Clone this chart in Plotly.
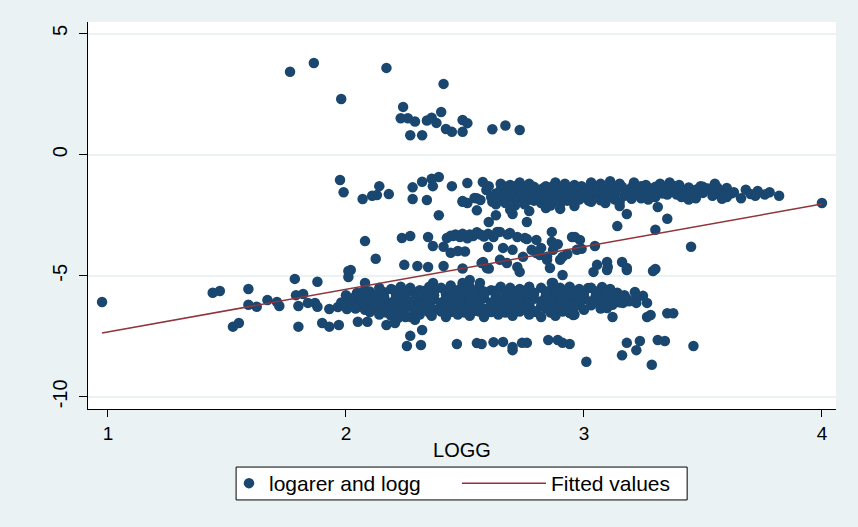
import plotly.graph_objects as go

# ---------------- data ----------------
top_outliers = [
    (1.765, 3.42), (1.865, 3.78), (2.17, 3.58), (1.98, 2.30), (2.41, 2.92),
    (2.24, 1.97), (2.23, 1.50), (2.26, 1.50), (2.29, 1.37), (2.34, 1.41),
    (2.36, 1.52), (2.38, 1.31), (2.40, 1.76), (2.42, 1.06), (2.445, 0.94),
    (2.49, 1.43), (2.51, 1.30), (2.49, 0.94), (2.27, 0.80), (2.32, 0.80),
    (2.615, 1.05), (2.67, 1.20), (2.73, 1.02),
]

upper_left = [
    (1.975, -1.05), (1.99, -1.55), (2.07, -1.83), (2.11, -1.70), (2.13, -1.67),
    (2.14, -1.30), (2.18, -1.63), (2.28, -1.35), (2.28, -1.83), (2.34, -1.87),
    (2.32, -1.12), (2.36, -1.00), (2.39, -0.92), (2.365, -1.30), (2.445, -1.30),
    (2.51, -1.17), (2.39, -2.50), (2.49, -1.95), (2.51, -2.00), (2.55, -1.80),
    (2.55, -2.30), (2.60, -2.78), (2.63, -2.50), (2.54, -1.79), (2.575, -1.13),
    (2.59, -1.46), (2.565, -1.87), (2.615, -1.95), (2.635, -1.75), (2.60, -1.30),
    (2.70, -2.45), (2.76, -2.78), (2.49, -1.91),
]

upper_row_a_x = [2.65, 2.69, 2.73, 2.77, 2.84, 2.88, 2.92, 2.96, 3.03, 3.07,
                 3.11, 3.15, 3.21, 3.26, 3.32, 3.36, 3.40, 3.49, 3.55]
upper_row_a_y = [-1.20, -1.25, -1.15, -1.20, -1.30, -1.15, -1.20, -1.25, -1.15, -1.20,
                 -1.10, -1.20, -1.15, -1.25, -1.20, -1.15, -1.25, -1.30, -1.20]
upper_row_ab_x = [2.67, 2.71, 2.75, 2.79, 2.83, 2.87, 2.91, 2.95, 2.99, 3.04, 3.08,
                  3.12, 3.16, 3.20, 3.24, 3.30, 3.34, 3.38, 3.44, 3.50, 3.56, 3.60]
upper_row_ab_y = [-1.33, -1.30, -1.35, -1.33, -1.38, -1.30, -1.33, -1.36, -1.30, -1.33, -1.35,
                  -1.30, -1.33, -1.36, -1.30, -1.33, -1.35, -1.30, -1.36, -1.33, -1.35, -1.38]
upper_row_b_x = [2.65, 2.68, 2.72, 2.76, 2.81, 2.85, 2.89, 2.93, 2.97, 3.02,
                 3.06, 3.10, 3.14, 3.18, 3.24, 3.28, 3.32, 3.37, 3.42, 3.47,
                 3.52, 3.57, 3.63, 3.68, 3.73, 3.78]
upper_row_b_y = [-1.45, -1.50, -1.40, -1.50, -1.45, -1.55, -1.40, -1.50, -1.45, -1.40,
                 -1.50, -1.45, -1.40, -1.50, -1.45, -1.40, -1.50, -1.45, -1.50, -1.45,
                 -1.40, -1.50, -1.55, -1.45, -1.50, -1.55]
upper_row_bc_x = [2.63, 2.67, 2.70, 2.74, 2.79, 2.83, 2.87, 2.91, 2.95, 2.99, 3.03, 3.08,
                  3.13, 3.19, 3.22, 3.27, 3.33, 3.39, 3.44, 3.50, 3.56, 3.62, 3.70]
upper_row_bc_y = [-1.60, -1.62, -1.58, -1.60, -1.65, -1.60, -1.58, -1.62, -1.60, -1.65, -1.58, -1.60,
                  -1.62, -1.60, -1.58, -1.62, -1.60, -1.65, -1.60, -1.58, -1.62, -1.60, -1.63]
upper_row_c_x = [2.61, 2.65, 2.69, 2.73, 2.77, 2.82, 2.86, 2.90, 2.95, 3.00,
                 3.05, 3.11, 3.17, 3.24, 3.30, 3.35, 3.41, 3.47, 3.54, 3.60,
                 3.66, 3.72, 3.76, 3.82]
upper_row_c_y = [-1.75, -1.80, -1.70, -1.75, -1.85, -1.70, -1.75, -1.80, -1.70, -1.75,
                 -1.65, -1.75, -1.70, -1.80, -1.75, -1.65, -1.75, -1.80, -1.70, -1.75,
                 -1.80, -1.70, -1.65, -1.70]
upper_row_cd_x = [2.63, 2.67, 2.71, 2.75, 2.79, 2.84, 2.88, 2.93, 2.98, 3.02, 3.07,
                  3.13, 3.20, 3.27, 3.44, 3.58]
upper_row_cd_y = [-1.90, -1.92, -1.88, -1.95, -1.90, -1.88, -1.92, -1.90, -1.85, -1.90, -1.88,
                  -1.85, -1.82, -1.85, -1.85, -1.82]
upper_row_d_x = [2.63, 2.67, 2.71, 2.75, 2.82, 2.86, 2.90, 2.96, 3.03, 3.09, 3.15]
upper_row_d_y = [-2.05, -2.00, -2.10, -2.05, -2.00, -2.10, -2.05, -2.00, -1.95, -2.00, -1.95]

upper_extra = [
    (2.69, -2.28), (2.77, -2.33), (2.84, -2.20), (2.90, -2.24), (2.96, -2.12),
    (3.14, -2.95), (3.15, -2.12), (3.18, -2.45), (3.31, -2.16), (3.35, -2.65),
    (3.30, -3.10), (3.45, -3.80), (3.54, -1.38), (4.00, -2.00),
]

middle_cluster = [
    (2.08, -3.57), (2.125, -4.30), (2.02, -4.76), (2.235, -3.44), (2.27, -3.36),
    (2.345, -3.40), (2.365, -3.77), (2.41, -3.80), (2.424, -3.44), (2.45, -3.36),
    (2.479, -3.40), (2.49, -3.27), (2.534, -3.36), (2.565, -3.30), (2.597, -3.27),
    (2.635, -3.19), (2.44, -4.05), (2.47, -3.98), (2.50, -4.00), (2.597, -3.81),
    (2.245, -4.55), (2.30, -4.60), (2.345, -4.64), (2.41, -4.60), (2.49, -4.70),
    (2.57, -4.47), (2.60, -4.70), (2.647, -3.19), (2.689, -3.23), (2.76, -3.48),
    (2.80, -3.52), (2.865, -3.19), (2.865, -3.60), (2.87, -3.93), (2.91, -4.22),
    (2.90, -4.34), (2.815, -4.14), (2.78, -3.93), (2.70, -3.93), (2.66, -3.85),
    (2.647, -4.34), (2.676, -4.47), (2.72, -4.64), (2.73, -4.84), (2.857, -4.68),
    (2.91, -4.97), (2.983, -3.52), (2.962, -3.40), (2.97, -3.93), (3.046, -3.77),
    (3.055, -4.55), (3.10, -4.64), (3.097, -4.43), (3.16, -4.43), (3.18, -4.68),
    (3.30, -4.72), (2.752, -3.44), (2.95, -3.40), (2.99, -3.89), (2.80, -4.06),
    (2.845, -4.22), (2.845, -4.34), (2.744, -4.22), (2.576, -4.43), (2.592, -4.68),
    (2.46, -3.30), (2.51, -3.45), (2.55, -3.20), (2.62, -3.40), (2.87, -5.30),
    (3.04, -4.84), (3.097, -4.76), (3.18, -4.76), (3.29, -4.80),
    (2.44, -3.35), (2.52, -3.30), (2.58, -3.38), (2.68, -3.30), (2.72, -3.40),
    (2.82, -3.85), (2.89, -3.70), (2.93, -4.10),
]

lower_row_1_x = [2.14, 2.19, 2.23, 2.27, 2.31, 2.35, 2.40, 2.44, 2.48, 2.52,
                 2.56, 2.61, 2.65, 2.69, 2.73, 2.77, 2.82, 2.86, 2.90, 2.94,
                 2.98, 3.03, 3.07, 3.11]
lower_row_1_y = [-5.50, -5.55, -5.45, -5.50, -5.60, -5.45, -5.50, -5.40, -5.55, -5.45,
                 -5.50, -5.60, -5.45, -5.50, -5.55, -5.45, -5.50, -5.60, -5.50, -5.45,
                 -5.55, -5.50, -5.60, -5.55]
lower_row_15_x = [2.10, 2.16, 2.21, 2.25, 2.29, 2.33, 2.37, 2.42, 2.46, 2.50, 2.54, 2.58,
                  2.63, 2.67, 2.71, 2.75, 2.79, 2.84, 2.88, 2.92, 2.96, 3.00, 3.05, 3.09, 3.14]
lower_row_15_y = [-5.65, -5.68, -5.62, -5.65, -5.70, -5.62, -5.65, -5.68, -5.62, -5.65, -5.70, -5.65,
                  -5.62, -5.68, -5.65, -5.62, -5.70, -5.65, -5.68, -5.62, -5.65, -5.70, -5.65, -5.68, -5.70]
lower_row_2_x = [2.00, 2.04, 2.08, 2.12, 2.16, 2.21, 2.25, 2.29, 2.33, 2.37,
                 2.42, 2.46, 2.50, 2.54, 2.58, 2.63, 2.67, 2.71, 2.75, 2.79,
                 2.84, 2.88, 2.92, 2.96, 3.00, 3.05, 3.09, 3.13, 3.17]
lower_row_2_y = [-5.80, -5.85, -5.75, -5.80, -5.85, -5.75, -5.80, -5.70, -5.85, -5.80,
                 -5.75, -5.85, -5.80, -5.75, -5.80, -5.85, -5.75, -5.80, -5.85, -5.75,
                 -5.80, -5.85, -5.75, -5.80, -5.85, -5.80, -5.75, -5.85, -5.80]
lower_row_25_x = [2.02, 2.06, 2.10, 2.16, 2.21, 2.25, 2.29, 2.33, 2.37, 2.42, 2.46, 2.50,
                  2.54, 2.58, 2.63, 2.67, 2.71, 2.75, 2.79, 2.84, 2.88, 2.92, 2.96, 3.00,
                  3.05, 3.09, 3.13, 3.18, 3.22]
lower_row_25_y = [-5.95, -5.92, -5.98, -5.95, -5.92, -5.98, -5.95, -5.92, -5.98, -5.95, -5.92, -5.98,
                  -5.95, -5.92, -5.98, -5.95, -5.92, -5.98, -5.95, -5.92, -5.98, -5.95, -5.92, -5.98,
                  -5.95, -5.92, -5.98, -5.95, -5.92]
lower_row_3_x = [1.98, 2.02, 2.06, 2.10, 2.14, 2.19, 2.23, 2.27, 2.31, 2.35,
                 2.40, 2.44, 2.48, 2.52, 2.56, 2.61, 2.65, 2.69, 2.73, 2.77,
                 2.82, 2.86, 2.90, 2.94, 2.98, 3.03, 3.07, 3.11, 3.15, 3.19]
lower_row_3_y = [-6.10, -6.05, -6.10, -6.15, -6.05, -6.10, -6.00, -6.10, -6.15, -6.05,
                 -6.10, -6.15, -6.05, -6.10, -6.00, -6.10, -6.15, -6.05, -6.10, -6.15,
                 -6.05, -6.10, -6.00, -6.10, -6.15, -6.05, -6.10, -6.05, -6.10, -6.05]
lower_row_35_x = [2.00, 2.06, 2.10, 2.14, 2.19, 2.23, 2.27, 2.31, 2.35, 2.40, 2.44, 2.48,
                  2.52, 2.56, 2.61, 2.65, 2.69, 2.73, 2.77, 2.82, 2.86, 2.90, 2.94, 2.98,
                  3.03, 3.07, 3.12]
lower_row_35_y = [-6.22, -6.25, -6.20, -6.22, -6.25, -6.20, -6.22, -6.25, -6.20, -6.22, -6.25, -6.20,
                  -6.22, -6.25, -6.20, -6.22, -6.25, -6.20, -6.22, -6.25, -6.20, -6.22, -6.25, -6.20,
                  -6.22, -6.25, -6.20]
lower_row_4_x = [2.04, 2.08, 2.12, 2.16, 2.21, 2.25, 2.29, 2.33, 2.37, 2.42,
                 2.46, 2.50, 2.54, 2.58, 2.63, 2.67, 2.71, 2.75, 2.79, 2.84,
                 2.88, 2.92, 2.96, 3.00, 3.07]
lower_row_4_y = [-6.35, -6.40, -6.35, -6.30, -6.40, -6.35, -6.45, -6.35, -6.40, -6.30,
                 -6.40, -6.35, -6.45, -6.35, -6.40, -6.30, -6.40, -6.35, -6.45, -6.35,
                 -6.40, -6.35, -6.30, -6.40, -6.35]
lower_row_45_x = [2.10, 2.17, 2.23, 2.29, 2.35, 2.40, 2.44, 2.50, 2.56, 2.61, 2.67, 2.73,
                  2.80, 2.86, 2.91]
lower_row_45_y = [-6.50, -6.52, -6.48, -6.50, -6.52, -6.48, -6.50, -6.52, -6.48, -6.50, -6.52, -6.48,
                  -6.50, -6.52, -6.48]
lower_row_5_x = [2.14, 2.19, 2.25, 2.31, 2.36, 2.42, 2.47, 2.52, 2.58, 2.64,
                 2.70, 2.77, 2.82, 2.88, 2.96]
lower_row_5_y = [-6.60, -6.65, -6.70, -6.60, -6.65, -6.70, -6.60, -6.65, -6.70, -6.60,
                 -6.65, -6.60, -6.70, -6.65, -6.60]

lower_scattered = [
    (0.975, -6.08), (1.44, -5.70), (1.47, -5.63), (1.525, -7.10), (1.55, -6.95),
    (1.59, -5.55), (1.59, -6.20), (1.625, -6.28), (1.67, -6.00), (1.71, -6.08),
    (1.72, -6.25), (1.785, -5.13), (1.88, -5.25), (1.79, -5.80), (1.82, -5.75),
    (1.80, -6.25), (1.84, -6.12), (1.87, -6.12), (1.88, -6.28), (1.80, -7.10),
    (1.90, -6.95), (1.93, -7.10), (1.97, -7.03), (2.01, -4.80), (2.01, -5.05),
    (1.93, -6.37), (1.966, -6.29), (2.004, -6.37), (2.046, -6.29), (2.08, -5.30),
    (2.046, -5.71), (2.07, -5.67), (2.05, -6.90), (2.09, -6.90), (2.17, -7.03),
    (2.206, -6.95), (2.22, -6.74), (2.27, -7.48), (2.32, -7.24), (2.256, -7.90),
    (2.315, -7.86), (2.273, -6.70), (2.29, -6.82),
    (2.366, -5.30), (2.49, -5.30), (2.52, -5.17), (2.563, -5.30), (2.865, -5.30),
    (3.017, -5.51), (3.076, -5.46), (3.214, -5.67), (3.248, -5.83), (3.265, -6.12),
    (3.22, -6.12), (3.164, -6.12), (3.122, -6.00), (3.12, -6.70), (3.265, -6.70),
    (3.28, -6.62), (3.35, -6.55), (3.375, -6.55), (2.94, -6.54), (2.955, -6.62),
    (2.77, -6.54), (2.70, -6.54), (3.097, -6.33),
]

bottom_outliers = [
    (2.466, -7.82), (2.55, -7.78), (2.57, -7.82), (2.62, -7.74), (2.66, -7.73),
    (2.70, -7.94), (2.70, -8.07), (2.74, -7.77), (2.76, -7.77), (2.85, -7.65),
    (2.89, -7.65), (2.91, -7.77), (2.94, -7.82), (3.18, -7.77), (3.235, -7.69),
    (3.22, -8.07), (3.16, -8.28), (3.31, -7.65), (3.34, -7.69), (3.01, -8.55),
    (3.285, -8.67), (3.46, -7.90),
]

fit_x = [0.975, 4.0]
fit_y = [-7.36, -2.04]

# ---------------- assemble ----------------
pairs = top_outliers + upper_left + upper_extra + middle_cluster + lower_scattered + bottom_outliers
scatter_x = [p[0] for p in pairs]
scatter_y = [p[1] for p in pairs]
for xs, ys in [(upper_row_a_x, upper_row_a_y), (upper_row_ab_x, upper_row_ab_y),
               (upper_row_b_x, upper_row_b_y), (upper_row_bc_x, upper_row_bc_y),
               (upper_row_c_x, upper_row_c_y), (upper_row_cd_x, upper_row_cd_y),
               (upper_row_d_x, upper_row_d_y),
               (lower_row_1_x, lower_row_1_y), (lower_row_15_x, lower_row_15_y),
               (lower_row_2_x, lower_row_2_y), (lower_row_25_x, lower_row_25_y),
               (lower_row_3_x, lower_row_3_y), (lower_row_35_x, lower_row_35_y),
               (lower_row_4_x, lower_row_4_y), (lower_row_45_x, lower_row_45_y),
               (lower_row_5_x, lower_row_5_y)]:
    scatter_x += xs
    scatter_y += ys

FONT = "Liberation Sans, Arial, sans-serif"
LEG_FONT = dict(size=21, family=FONT, color="black")

fig = go.Figure()
fig.add_trace(go.Scatter(
    x=scatter_x, y=scatter_y, mode="markers", name="logarer and logg",
    marker=dict(color="#1A476F", size=10.5, line=dict(width=0)),
    legend="legend",
))
fig.add_trace(go.Scatter(
    x=fit_x, y=fit_y, mode="lines", name="Fitted values",
    line=dict(color="#90353B", width=1.5),
    legend="legend2",
))

fig.update_layout(
    width=858, height=527,
    margin=dict(l=88, r=22, t=22, b=118),
    paper_bgcolor="#EAF2F3", plot_bgcolor="white",
    font=dict(family=FONT, color="black"),
    showlegend=True,
    legend=dict(
        orientation="h", x=0.1885, xanchor="left", y=-0.1395, yanchor="top",
        bgcolor="rgba(0,0,0,0)", borderwidth=0, font=LEG_FONT,
        itemwidth=30, itemclick=False, itemdoubleclick=False,
    ),
    legend2=dict(
        orientation="h", x=0.4933, xanchor="left", y=-0.1395, yanchor="top",
        bgcolor="rgba(0,0,0,0)", borderwidth=0, font=LEG_FONT,
        itemwidth=84, itemclick=False, itemdoubleclick=False,
    ),
    shapes=[dict(
        type="rect", xref="paper", yref="paper",
        x0=0.198, x1=0.801, y0=-0.235, y1=-0.150,
        fillcolor="white", line=dict(color="black", width=1), layer="below",
    )],
    xaxis=dict(
        range=[0.916, 4.059], tickvals=[1, 2, 3, 4], ticktext=["1", "2", "3", "4"],
        ticks="outside", ticklen=7, tickcolor="black", tickwidth=1,
        showline=True, linecolor="black", linewidth=1, mirror=False,
        showgrid=False, zeroline=False,
        tickfont=dict(size=19, family=FONT, color="black"),
        title=dict(text="LOGG", font=dict(size=20, family=FONT, color="black"), standoff=0),
    ),
    yaxis=dict(
        range=[-10.5, 5.475], tickvals=[-10, -5, 0, 5], ticktext=["-10", "-5", "0", "5"],
        tickangle=-90, ticks="outside", ticklen=8, tickcolor="black", tickwidth=1,
        showline=True, linecolor="black", linewidth=1,
        showgrid=True, gridcolor="#EAF2F3", gridwidth=1.5, zeroline=False,
        tickfont=dict(size=20, family=FONT, color="black"),
        ticklabelstandoff=4,
    ),
)

fig.write_html("out.html", config={"displayModeBar": False})
